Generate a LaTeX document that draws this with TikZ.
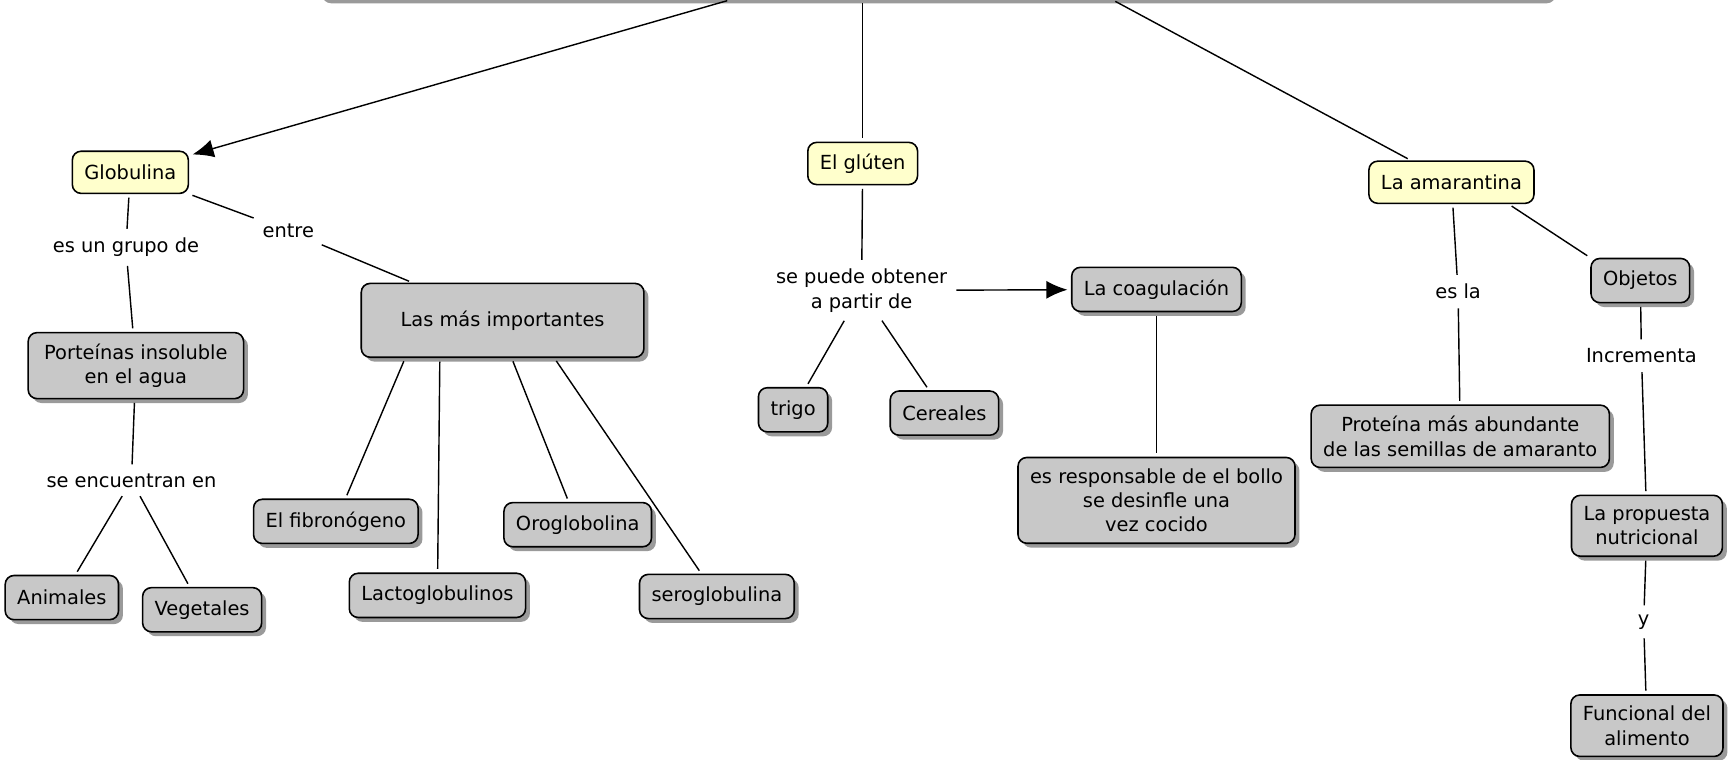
\documentclass[tikz,border=0pt]{standalone}
\usepackage{fontspec}
\setmainfont{DejaVu Sans}
\usetikzlibrary{arrows.meta,shadows}
\definecolor{conceptyellow}{HTML}{FFFFCC}
\definecolor{boxgray}{HTML}{C8C8C8}
\definecolor{shadegray}{HTML}{9A9A9A}

\begin{document}
\begin{tikzpicture}[
    x=0.022cm, y=-0.022cm,
    font=\fontsize{11}{13.8}\selectfont,
    concept/.style={draw, line width=0.9pt, rounded corners=5pt, fill=conceptyellow,
        inner xsep=0.24cm, inner ysep=0.22cm, minimum height=0.84cm, align=center},
    box/.style={concept, fill=boxgray, minimum height=0.88cm,
        drop shadow={shadow xshift=2.5pt, shadow yshift=-2.5pt, fill=shadegray, opacity=1}},
    link/.style={inner sep=3pt, align=center},
    conn/.style={line width=0.8pt, shorten >=2pt, shorten <=2pt},
    arr/.style={conn, -{Latex[length=4.2mm, width=3.6mm]}}
]
    \useasboundingbox (0,0) rectangle (1568,688);

    % Top concept (cut off)
    \node[box, minimum width=24.57cm, minimum height=1.32cm] (root) at (846,-31) {};

    % Main concepts
    \node[concept] (glob) at (118,156) {Globulina};
    \node[concept] (glut) at (781,148) {El glúten};
    \node[concept] (amar) at (1314,165) {La amarantina};

    % Globulina branch
    \node[link] (grupo) at (114,224) {es un grupo de};
    \node[link] (entre) at (261,209) {entre};
    \node[box, minimum width=4.29cm] (port) at (123,331) {Porteínas insoluble\\ en el agua};
    \node[box, minimum width=5.63cm, minimum height=1.47cm] (las) at (455,290) {Las más importantes};
    \node[link] (encu) at (119,435) {se encuentran en};
    \node[box] (anim) at (56,541) {Animales};
    \node[box] (veg) at (183,552) {Vegetales};
    \node[box] (fibro) at (304,472) {El fibronógeno};
    \node[box] (lacto) at (396,539) {Lactoglobulinos};
    \node[box] (oro) at (523,475) {Oroglobolina};
    \node[box] (sero) at (649,540) {seroglobulina};

    % Gluten branch
    \node[link] (obt) at (780,263) {se puede obtener\\ a partir de};
    \node[box] (coag) at (1047,262) {La coagulación};
    \node[box] (trigo) at (718,371) {trigo};
    \node[box] (cer) at (855,374) {Cereales};
    \node[box] (resp) at (1047,453) {es responsable de el bollo\\ se desinfle una\\ vez cocido};

    % Amarantina branch
    \node[link] (esla) at (1320,264) {es la};
    \node[box] (obj) at (1485,254) {Objetos};
    \node[link] (incr) at (1486,322) {Incrementa};
    \node[box, minimum width=5.9cm] (prot) at (1322,395) {Proteína más abundante\\ de las semillas de amaranto};
    \node[box] (prop) at (1491,476) {La propuesta\\ nutricional};
    \node[link] (lblY) at (1488,563) {y};
    \node[box] (func) at (1491,657) {Funcional del\\ alimento};

    % Connectors from top
    \draw[arr] ([xshift=-4.06cm]root.south) -- (glob);
    \draw[conn] (root.south -| glut) -- (glut);
    \draw[conn] ([xshift=3.54cm]root.south) -- (amar);

    % Globulina connectors
    \draw[conn] (glob) -- (grupo);
    \draw[conn] (grupo) -- (port);
    \draw[conn] (glob) -- (entre);
    \draw[conn] (entre) -- (las);
    \draw[conn] (port) -- (encu);
    \draw[conn] (encu) -- (anim);
    \draw[conn] (encu) -- (veg);
    \draw[conn] ([xshift=-1.94cm]las.south) -- (fibro);
    \draw[conn] ([xshift=-1.25cm]las.south) -- (lacto);
    \draw[conn] ([xshift=0.18cm]las.south) -- (oro);
    \draw[conn] ([xshift=1.03cm]las.south) -- (sero);

    % Gluten connectors
    \draw[conn] (glut) -- (obt);
    \draw[conn] (obt) -- (trigo);
    \draw[conn] (obt) -- (cer);
    \draw[arr] (obt) -- (coag);
    \draw[conn] (coag) -- (resp);

    % Amarantina connectors
    \draw[conn] (amar) -- (esla);
    \draw[conn] (esla) -- (prot);
    \draw[conn] ([xshift=1.14cm]amar.south) -- (obj.north west);
    \draw[conn] (obj) -- (incr);
    \draw[conn] (incr) -- (prop);
    \draw[conn] (prop) -- (lblY);
    \draw[conn] (lblY) -- (func);
\end{tikzpicture}
\end{document}
